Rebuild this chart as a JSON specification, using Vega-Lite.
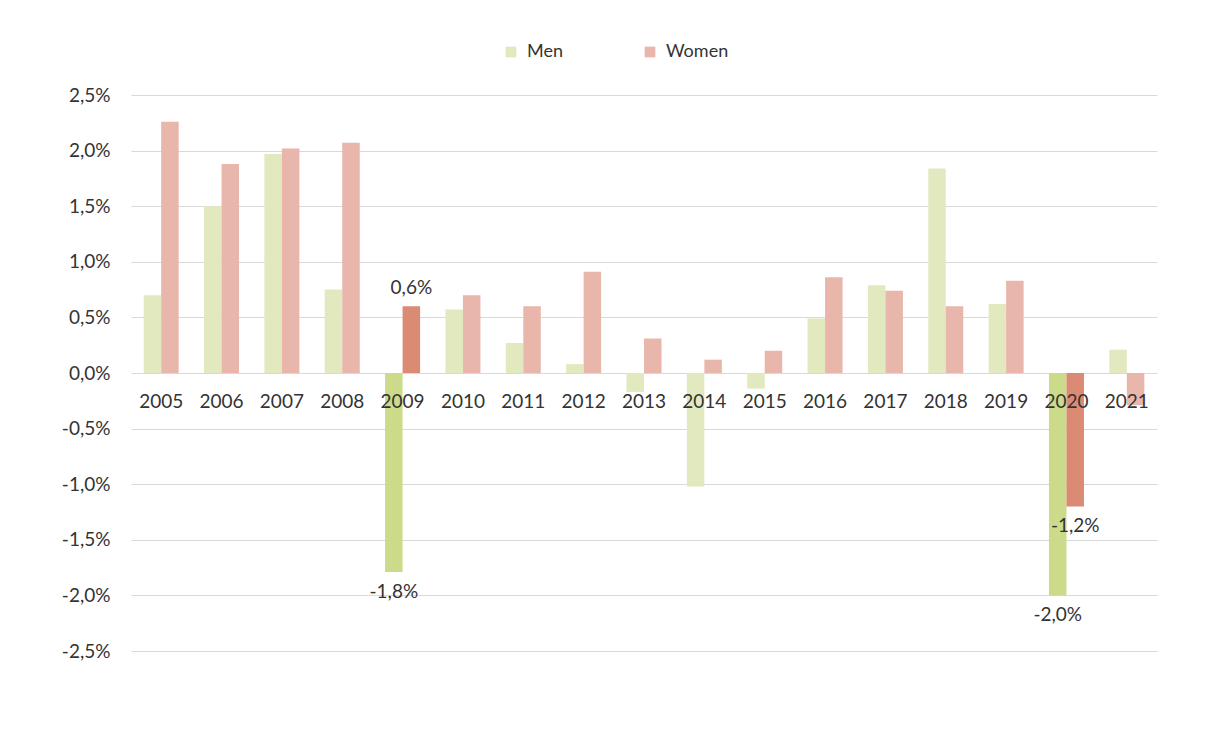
{
  "$schema": "https://vega.github.io/schema/vega-lite/v6.json",
  "autosize": {"type": "none"},
  "width": 1026,
  "height": 556,
  "padding": {"left": 131, "top": 95, "right": 55, "bottom": 80},
  "background": "white",
  "config": {
    "view": {"stroke": null},
    "font": "Lato",
    "text": {"font": "Lato", "fontSize": 19, "color": "#333333"}
  },
  "data": {
    "values": [
      {"year": "2005", "sex": "Men", "cat": "Men", "value": 0.0070},
      {"year": "2005", "sex": "Women", "cat": "Women", "value": 0.0226},
      {"year": "2006", "sex": "Men", "cat": "Men", "value": 0.0150},
      {"year": "2006", "sex": "Women", "cat": "Women", "value": 0.0188},
      {"year": "2007", "sex": "Men", "cat": "Men", "value": 0.0197},
      {"year": "2007", "sex": "Women", "cat": "Women", "value": 0.0202},
      {"year": "2008", "sex": "Men", "cat": "Men", "value": 0.0075},
      {"year": "2008", "sex": "Women", "cat": "Women", "value": 0.0207},
      {"year": "2009", "sex": "Men", "cat": "Men highlight", "value": -0.0179, "label": "-1,8%"},
      {"year": "2009", "sex": "Women", "cat": "Women highlight", "value": 0.0060, "label": "0,6%"},
      {"year": "2010", "sex": "Men", "cat": "Men", "value": 0.0057},
      {"year": "2010", "sex": "Women", "cat": "Women", "value": 0.0070},
      {"year": "2011", "sex": "Men", "cat": "Men", "value": 0.0027},
      {"year": "2011", "sex": "Women", "cat": "Women", "value": 0.0060},
      {"year": "2012", "sex": "Men", "cat": "Men", "value": 0.0008},
      {"year": "2012", "sex": "Women", "cat": "Women", "value": 0.0091},
      {"year": "2013", "sex": "Men", "cat": "Men", "value": -0.0017},
      {"year": "2013", "sex": "Women", "cat": "Women", "value": 0.0031},
      {"year": "2014", "sex": "Men", "cat": "Men", "value": -0.0102},
      {"year": "2014", "sex": "Women", "cat": "Women", "value": 0.0012},
      {"year": "2015", "sex": "Men", "cat": "Men", "value": -0.0014},
      {"year": "2015", "sex": "Women", "cat": "Women", "value": 0.0020},
      {"year": "2016", "sex": "Men", "cat": "Men", "value": 0.0049},
      {"year": "2016", "sex": "Women", "cat": "Women", "value": 0.0086},
      {"year": "2017", "sex": "Men", "cat": "Men", "value": 0.0079},
      {"year": "2017", "sex": "Women", "cat": "Women", "value": 0.0074},
      {"year": "2018", "sex": "Men", "cat": "Men", "value": 0.0184},
      {"year": "2018", "sex": "Women", "cat": "Women", "value": 0.0060},
      {"year": "2019", "sex": "Men", "cat": "Men", "value": 0.0062},
      {"year": "2019", "sex": "Women", "cat": "Women", "value": 0.0083},
      {"year": "2020", "sex": "Men", "cat": "Men highlight", "value": -0.0200, "label": "-2,0%"},
      {"year": "2020", "sex": "Women", "cat": "Women highlight", "value": -0.0120, "label": "-1,2%"},
      {"year": "2021", "sex": "Men", "cat": "Men", "value": 0.0021},
      {"year": "2021", "sex": "Women", "cat": "Women", "value": -0.0029}
    ]
  },
  "encoding": {
    "x": {
      "field": "year", "type": "nominal", "axis": null,
      "scale": {"paddingInner": 0.42, "paddingOuter": 0.21}
    },
    "y": {
      "field": "value", "type": "quantitative",
      "scale": {"domain": [-0.025, 0.025], "nice": false, "zero": false},
      "axis": {
        "title": null,
        "values": [-0.025, -0.02, -0.015, -0.01, -0.005, 0, 0.005, 0.01, 0.015, 0.02, 0.025],
        "labelExpr": "replace(replace(format(datum.value, '.1%'), '.', ','), '\u2212', '-')",
        "domain": false, "ticks": false,
        "labelPadding": 21, "labelFontSize": 19, "labelFont": "Lato", "labelColor": "#333333",
        "gridColor": "#d9d9d9", "gridWidth": 1
      }
    }
  },
  "layer": [
    {
      "mark": {"type": "bar"},
      "encoding": {
        "xOffset": {"field": "sex", "type": "nominal", "scale": {"paddingInner": 0, "paddingOuter": 0}},
        "color": {
          "field": "cat", "type": "nominal",
          "scale": {
            "domain": ["Men", "Women", "Men highlight", "Women highlight"],
            "range": ["#e2e9bf", "#e8b6ab", "#cbdb8a", "#db8a74"]
          },
          "legend": {
            "values": ["Men", "Women"],
            "title": null,
            "orient": "none",
            "direction": "horizontal",
            "legendX": 371,
            "legendY": -52,
            "symbolType": "square",
            "symbolSize": 115,
            "symbolStrokeWidth": 0,
            "labelFontSize": 18,
            "labelFont": "Lato",
            "labelColor": "#333333",
            "labelOffset": 7,
            "columnPadding": 78
          }
        }
      }
    },
    {
      "transform": [{"filter": "datum.sex == 'Men'"}],
      "mark": {"type": "text", "baseline": "middle", "dy": 29, "fontSize": 19},
      "encoding": {
        "y": {"datum": 0},
        "text": {"field": "year"}
      }
    },
    {
      "transform": [{"filter": "datum.label && datum.value > 0"}],
      "mark": {"type": "text", "baseline": "bottom", "dy": -8, "fontSize": 19},
      "encoding": {
        "xOffset": {"field": "sex", "type": "nominal"},
        "text": {"field": "label"}
      }
    },
    {
      "transform": [{"filter": "datum.label && datum.value < 0"}],
      "mark": {"type": "text", "baseline": "top", "dy": 11, "fontSize": 19},
      "encoding": {
        "xOffset": {"field": "sex", "type": "nominal"},
        "text": {"field": "label"}
      }
    }
  ]
}
